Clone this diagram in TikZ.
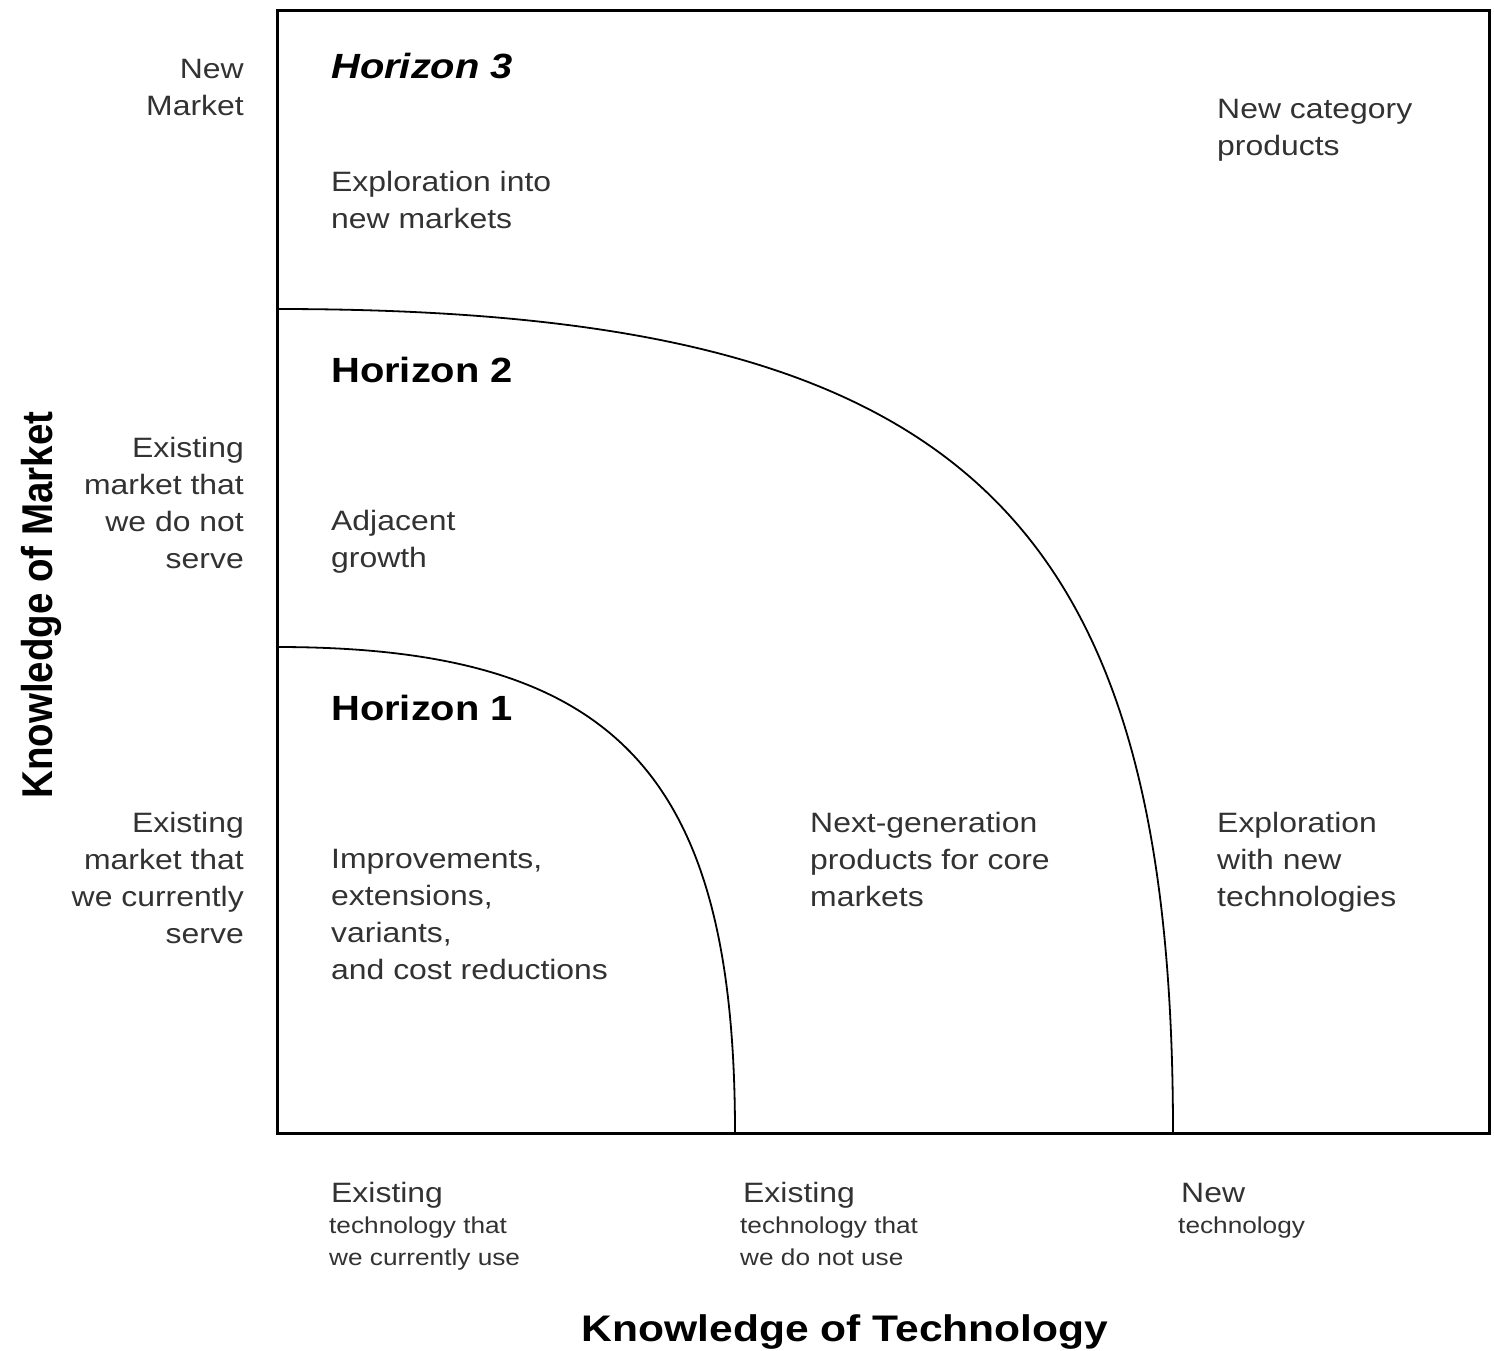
\documentclass[tikz,border=0pt]{standalone}
\usepackage{fontspec}
\setmainfont{Liberation Sans}
\usepackage{graphicx}
\definecolor{txtgray}{RGB}{50,50,50}
\newcommand\blk[2]{\scalebox{1.14}[1]{\begin{tabular}[t]{@{}#1@{}}#2\end{tabular}}}
\begin{document}
\begin{tikzpicture}[x=1pt,y=-1pt,
  txt/.style={inner sep=0, text=txtgray, font=\fontsize{28}{37}\selectfont},
  hd/.style={inner sep=0, text=black, font=\fontsize{35}{40}\selectfont\bfseries},
  sm/.style={inner sep=0, text=txtgray, font=\fontsize{23}{32}\selectfont},
  ttl/.style={inner sep=0, text=black, font=\fontsize{37}{44}\selectfont\bfseries},
  frame/.style={draw=black, line width=3pt},
  hz/.style={draw=black, line width=1.8pt}]
\useasboundingbox (0,0) rectangle (1494,1350);
% frame
\draw[frame] (277,10) rectangle (1489,1133);
% horizon curves
\coordinate (h1s) at (277,647);
\coordinate (h1e) at (735,1133);
\coordinate (h2s) at (277,309);
\coordinate (h2e) at (1173,1133);
\draw[hz] (h1s) .. controls (616,647) and (735,773) .. (h1e);
\draw[hz] (h2s) .. controls (958,309) and (1173,507) .. (h2e);
% headings
\node[hd, anchor=base west] (H3) at (331,78) {\scalebox{1.14}[1]{\itshape Horizon 3}};
\node[hd, anchor=base west] (H2) at (331,382) {\scalebox{1.14}[1]{Horizon 2}};
\node[hd, anchor=base west] (H1) at (331,720) {\scalebox{1.14}[1]{Horizon 1}};
% inner texts
\node[txt, anchor=base west] (t3) at (331,191) {\blk{l}{Exploration into\\new markets}};
\node[txt, anchor=base west] (tnc) at (1217,118) {\blk{l}{New category\\products}};
\node[txt, anchor=base west] (t2) at (331,530) {\blk{l}{Adjacent\\growth}};
\node[txt, anchor=base west] (t1) at (331,868) {\blk{l}{Improvements,\\extensions,\\variants,\\and cost reductions}};
\node[txt, anchor=base west] (tng) at (810,832) {\blk{l}{Next-generation\\products for core\\markets}};
\node[txt, anchor=base west] (tex) at (1217,832) {\blk{l}{Exploration\\with new\\technologies}};
% left labels
\node[txt, anchor=base east] (lnm) at (244,78) {\blk{r}{New\\Market}};
\node[txt, anchor=base east] (lem) at (244,457) {\blk{r}{Existing\\market that\\we do not\\serve}};
\node[txt, anchor=base east] (lcm) at (244,832) {\blk{r}{Existing\\market that\\we currently\\serve}};
% bottom labels
\node[txt, anchor=base west] (b1) at (331,1202) {\blk{l}{Existing}};
\node[sm, anchor=base west] (b1s) at (329,1233) {\blk{l}{technology that\\we currently use}};
\node[txt, anchor=base west] (b2) at (743,1202) {\blk{l}{Existing}};
\node[sm, anchor=base west] (b2s) at (740,1233) {\blk{l}{technology that\\we do not use}};
\node[txt, anchor=base west] (b3) at (1181,1202) {\blk{l}{New}};
\node[sm, anchor=base west] (b3s) at (1178,1233) {\blk{l}{technology}};
% axis titles
\node[ttl, anchor=base] (xt) at (845,1341) {\scalebox{1.15}[1]{Knowledge of Technology}};
\node[ttl, anchor=base, rotate=90] (yt) at (52,605) {\fontsize{38.5}{44}\selectfont\scalebox{1}[1.12]{Knowledge of Market}};
\end{tikzpicture}
\end{document}
